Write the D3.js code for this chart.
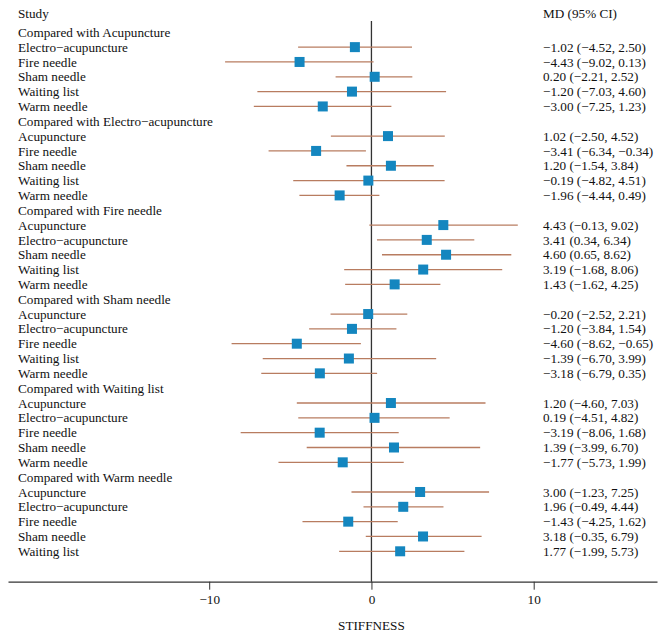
<!DOCTYPE html>
<html>
<head>
<meta charset="utf-8">
<script src="https://cdn.jsdelivr.net/npm/d3@7"></script>
<style>
  html, body { margin: 0; padding: 0; background: #fff; }
  svg { display: block; }
  text { font-family: "Liberation Serif", "DejaVu Serif", serif; fill: #111; }
</style>
</head>
<body>
<svg id="chart" width="666" height="633"></svg>
<script>
// ---- data ----
const groups = ["Acupuncture", "Electro\u2212acupuncture", "Fire needle", "Sham needle", "Waiting list", "Warm needle"];
// comparators within each group (in order)
const comparisons = [
  ["Electro\u2212acupuncture", "Fire needle", "Sham needle", "Waiting list", "Warm needle"],
  ["Acupuncture", "Fire needle", "Sham needle", "Waiting list", "Warm needle"],
  ["Acupuncture", "Electro\u2212acupuncture", "Sham needle", "Waiting list", "Warm needle"],
  ["Acupuncture", "Electro\u2212acupuncture", "Fire needle", "Waiting list", "Warm needle"],
  ["Acupuncture", "Electro\u2212acupuncture", "Fire needle", "Sham needle", "Warm needle"],
  ["Acupuncture", "Electro\u2212acupuncture", "Fire needle", "Sham needle", "Waiting list"]
];
const md = [
  [-1.02, -4.43, 0.20, -1.20, -3.00],
  [1.02, -3.41, 1.20, -0.19, -1.96],
  [4.43, 3.41, 4.60, 3.19, 1.43],
  [-0.20, -1.20, -4.60, -1.39, -3.18],
  [1.20, 0.19, -3.19, 1.39, -1.77],
  [3.00, 1.96, -1.43, 3.18, 1.77]
];
const lower = [
  [-4.52, -9.02, -2.21, -7.03, -7.25],
  [-2.50, -6.34, -1.54, -4.82, -4.44],
  [-0.13, 0.34, 0.65, -1.68, -1.62],
  [-2.52, -3.84, -8.62, -6.70, -6.79],
  [-4.60, -4.51, -8.06, -3.99, -5.73],
  [-1.23, -0.49, -4.25, -0.35, -1.99]
];
const upper = [
  [2.50, 0.13, 2.52, 4.60, 1.23],
  [4.52, -0.34, 3.84, 4.51, 0.49],
  [9.02, 6.34, 8.62, 8.06, 4.25],
  [2.21, 1.54, -0.65, 3.99, 0.35],
  [7.03, 4.82, 1.68, 6.70, 1.99],
  [7.25, 4.44, 1.62, 6.79, 5.73]
];
const xTicks = [-10, 0, 10];
const xTitle = "STIFFNESS";
const headerLeft = "Study";
const headerRight = "MD (95% CI)";

// ---- build rows ----
const rows = [];
groups.forEach((g, gi) => {
  rows.push({type: "header", label: "Compared with " + g});
  comparisons[gi].forEach((c, ci) => {
    rows.push({type: "study", label: c, md: md[gi][ci], lo: lower[gi][ci], hi: upper[gi][ci]});
  });
});
rows.forEach((r, i) => r.i = i);

// ---- scales ----
const svg = d3.select("#chart");
const x = d3.scaleLinear().domain([-22.4, 17.6]).range([8, 657]);
const y = d3.scaleLinear().domain([0, rows.length - 1]).range([32.3, 551.3]);
const axisY = 581.7;
const fmt = d3.format(".2f");
const f = v => fmt(v).replace("-", "\u2212");

const fontSize = 13.2;
const textX = 18, rightX = 543;

// headers
svg.append("text").attr("x", textX).attr("y", 13).attr("dy", "0.35em")
  .style("font-size", fontSize + "px").text(headerLeft);
svg.append("text").attr("x", rightX).attr("y", 13).attr("dy", "0.35em")
  .style("font-size", fontSize + "px").text(headerRight);

// zero line
svg.append("line")
  .attr("x1", x(0)).attr("x2", x(0))
  .attr("y1", 21).attr("y2", axisY)
  .attr("stroke", "#333").attr("stroke-width", 1.3);

// labels
svg.selectAll("text.lab").data(rows).join("text")
  .attr("class", "lab")
  .attr("x", textX).attr("y", d => y(d.i)).attr("dy", "0.35em")
  .style("font-size", fontSize + "px")
  .text(d => d.label);

const studies = rows.filter(d => d.type === "study");

// CI lines
svg.selectAll("line.ci").data(studies).join("line")
  .attr("class", "ci")
  .attr("x1", d => x(d.lo)).attr("x2", d => x(d.hi))
  .attr("y1", d => y(d.i)).attr("y2", d => y(d.i))
  .attr("stroke", "#b87c60").attr("stroke-width", 1.3);

// squares
const sq = 10;
svg.selectAll("rect.pt").data(studies).join("rect")
  .attr("class", "pt")
  .attr("x", d => x(d.md) - sq / 2).attr("y", d => y(d.i) - sq / 2)
  .attr("width", sq).attr("height", sq)
  .attr("fill", "#1486bf");

// right text
svg.selectAll("text.ci").data(studies).join("text")
  .attr("class", "ci")
  .attr("x", rightX).attr("y", d => y(d.i)).attr("dy", "0.35em")
  .style("font-size", fontSize + "px")
  .text(d => `${f(d.md)} (${f(d.lo)}, ${f(d.hi)})`);

// axis
const axis = d3.axisBottom(x).tickValues(xTicks).tickSizeInner(8).tickSizeOuter(0)
  .tickFormat(d => String(d).replace("-", "\u2212"));
const ag = svg.append("g").attr("transform", `translate(0,${axisY})`).call(axis);
ag.select(".domain").attr("stroke", "#333").attr("stroke-width", 1.3);
ag.selectAll(".tick line").attr("stroke", "#333").attr("stroke-width", 1);
ag.selectAll(".tick text")
  .attr("y", 13)
  .style("font-family", "'Liberation Serif', 'DejaVu Serif', serif")
  .style("font-size", fontSize + "px").attr("fill", "#111");

svg.append("text").attr("x", x(0)).attr("y", 630)
  .attr("text-anchor", "middle")
  .style("font-size", fontSize + "px").text(xTitle);
</script>
</body>
</html>
